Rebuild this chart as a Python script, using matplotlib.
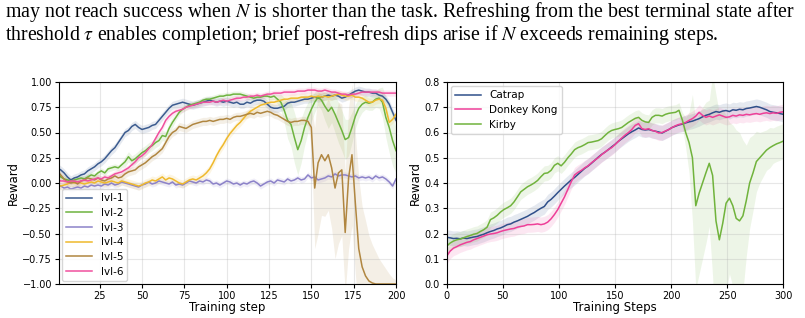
import numpy as np
import matplotlib
matplotlib.use("Agg")
import matplotlib.pyplot as plt

plt.rcParams['mathtext.fontset'] = 'stix'

# ---- caption text above the figure
caption_1 = r"may not reach success when $N$ is shorter than the task. Refreshing from the best terminal state after"
caption_2 = r"threshold $\tau$ enables completion; brief post-refresh dips arise if $N$ exceeds remaining steps."

# ---- left panel: reward per level (steps 0..200, every 2)
steps_lvl = np.arange(0, 201, 2)

lvl_1 = [0.15, 0.13, 0.10, 0.06, 0.03, 0.05, 0.06, 0.08, 0.09, 0.12,
         0.14, 0.16, 0.19, 0.21, 0.24, 0.28, 0.32, 0.35, 0.40, 0.45,
         0.50, 0.52, 0.56, 0.58, 0.55, 0.53, 0.54, 0.55, 0.57, 0.58,
         0.62, 0.66, 0.70, 0.74, 0.77, 0.78, 0.79, 0.80, 0.79, 0.78,
         0.77, 0.78, 0.79, 0.80, 0.81, 0.82, 0.81, 0.80, 0.81, 0.80,
         0.81, 0.80, 0.79, 0.80, 0.78, 0.78, 0.80, 0.79, 0.81, 0.82,
         0.82, 0.81, 0.78, 0.75, 0.74, 0.74, 0.75, 0.76, 0.79, 0.80,
         0.80, 0.81, 0.82, 0.83, 0.83, 0.84, 0.85, 0.84, 0.85, 0.86,
         0.87, 0.86, 0.87, 0.86, 0.84, 0.85, 0.87, 0.89, 0.91, 0.92,
         0.91, 0.90, 0.90, 0.89, 0.89, 0.87, 0.86, 0.83, 0.78, 0.70,
         0.62]
lvl_2 = [0.10, 0.06, 0.04, 0.03, 0.02, 0.03, 0.04, 0.05, 0.04, 0.06,
         0.08, 0.07, 0.10, 0.12, 0.10, 0.14, 0.15, 0.16, 0.15, 0.18,
         0.21, 0.26, 0.22, 0.24, 0.27, 0.30, 0.32, 0.35, 0.37, 0.40,
         0.42, 0.47, 0.46, 0.54, 0.60, 0.65, 0.70, 0.73, 0.75, 0.77,
         0.78, 0.79, 0.80, 0.82, 0.83, 0.83, 0.84, 0.85, 0.86, 0.86,
         0.87, 0.87, 0.88, 0.88, 0.88, 0.87, 0.86, 0.85, 0.84, 0.85,
         0.85, 0.86, 0.86, 0.85, 0.86, 0.83, 0.80, 0.72, 0.62, 0.58,
         0.45, 0.33, 0.42, 0.55, 0.65, 0.73, 0.80, 0.85, 0.82, 0.76,
         0.71, 0.75, 0.68, 0.60, 0.52, 0.43, 0.45, 0.55, 0.66, 0.74,
         0.78, 0.80, 0.79, 0.80, 0.83, 0.84, 0.80, 0.65, 0.55, 0.42,
         0.32]
lvl_3 = [-0.02, -0.03, -0.05, -0.04, -0.06, -0.05, -0.04, -0.05, -0.03, -0.04,
         -0.02, -0.03, -0.02, -0.03, -0.01, -0.02, 0.00, -0.02, -0.01, 0.01,
         0.00, -0.01, -0.02, -0.03, -0.04, -0.02, -0.01, 0.01, -0.01, 0.00,
         0.02, 0.01, 0.00, -0.01, 0.01, -0.02, -0.01, -0.02, 0.00, 0.02,
         0.01, 0.00, 0.02, 0.01, 0.03, 0.02, -0.01, 0.00, -0.02, 0.00,
         0.02, 0.01, -0.01, 0.00, -0.02, 0.00, -0.01, 0.01, 0.02, 0.00,
         -0.03, -0.01, 0.01, 0.02, 0.00, 0.03, 0.02, 0.01, 0.04, 0.02,
         0.03, 0.05, 0.03, 0.04, 0.08, 0.05, 0.06, 0.03, 0.04, 0.05,
         0.07, 0.06, 0.09, 0.07, 0.08, 0.08, 0.07, 0.06, 0.07, 0.05,
         0.06, 0.05, 0.06, 0.04, 0.07, 0.05, 0.06, 0.04, 0.01, -0.03,
         0.04]
lvl_4 = [-0.01, -0.03, -0.02, -0.01, 0.01, 0.00, 0.01, 0.00, -0.01, 0.00,
         0.01, 0.00, 0.02, 0.01, 0.00, 0.01, 0.02, 0.01, 0.00, 0.02,
         0.01, 0.00, -0.01, -0.02, -0.03, -0.02, 0.00, 0.01, 0.03, 0.02,
         0.04, 0.06, 0.03, 0.05, 0.04, 0.02, 0.00, -0.01, 0.01, 0.03,
         0.04, 0.03, 0.05, 0.07, 0.10, 0.14, 0.20, 0.27, 0.33, 0.38,
         0.44, 0.49, 0.53, 0.57, 0.60, 0.64, 0.68, 0.71, 0.73, 0.75,
         0.77, 0.78, 0.79, 0.80, 0.80, 0.81, 0.82, 0.83, 0.83, 0.84,
         0.84, 0.84, 0.85, 0.85, 0.85, 0.86, 0.85, 0.86, 0.85, 0.86,
         0.85, 0.86, 0.87, 0.88, 0.87, 0.86, 0.86, 0.87, 0.85, 0.85,
         0.84, 0.82, 0.80, 0.80, 0.82, 0.83, 0.82, 0.74, 0.60, 0.63,
         0.68]
lvl_5 = [0.12, 0.08, 0.04, 0.01, 0.00, 0.01, -0.01, 0.02, 0.03, 0.05,
         0.04, 0.03, 0.05, 0.03, 0.02, 0.04, 0.05, 0.07, 0.05, 0.06,
         0.09, 0.11, 0.12, 0.13, 0.16, 0.18, 0.20, 0.23, 0.26, 0.28,
         0.31, 0.34, 0.40, 0.46, 0.50, 0.52, 0.56, 0.55, 0.54, 0.56,
         0.58, 0.59, 0.60, 0.61, 0.61, 0.62, 0.61, 0.62, 0.63, 0.63,
         0.64, 0.63, 0.65, 0.66, 0.66, 0.67, 0.68, 0.69, 0.68, 0.70,
         0.69, 0.70, 0.71, 0.70, 0.68, 0.67, 0.65, 0.63, 0.61, 0.60,
         0.61, 0.61, 0.62, 0.62, 0.61, 0.55, -0.05, 0.20, 0.28, 0.22,
         0.28, 0.15, -0.05, 0.10, 0.13, -0.49, 0.05, 0.28, -0.20, -0.65,
         -0.83, -0.92, -0.97, -0.99, -1.00, -1.00, -1.00, -1.00, -1.00, -1.00,
         -1.00]
lvl_6 = [0.04, 0.02, 0.02, 0.01, 0.02, 0.02, 0.01, 0.02, 0.03, 0.02,
         0.03, 0.04, 0.05, 0.04, 0.06, 0.05, 0.07, 0.09, 0.10, 0.11,
         0.13, 0.15, 0.18, 0.21, 0.25, 0.27, 0.30, 0.34, 0.38, 0.44,
         0.50, 0.55, 0.62, 0.66, 0.69, 0.71, 0.72, 0.73, 0.75, 0.76,
         0.77, 0.78, 0.79, 0.80, 0.80, 0.80, 0.81, 0.80, 0.81, 0.82,
         0.81, 0.82, 0.83, 0.84, 0.84, 0.85, 0.85, 0.86, 0.86, 0.87,
         0.86, 0.87, 0.88, 0.88, 0.89, 0.89, 0.89, 0.90, 0.90, 0.90,
         0.90, 0.91, 0.91, 0.91, 0.92, 0.92, 0.92, 0.91, 0.91, 0.92,
         0.91, 0.90, 0.90, 0.89, 0.88, 0.88, 0.87, 0.88, 0.88, 0.89,
         0.90, 0.90, 0.90, 0.90, 0.90, 0.90, 0.89, 0.89, 0.89, 0.89,
         0.89]

# half-width of the shaded spread
lvl_2_spread = [0.03] * 20 + [0.05] * 15 + [0.03] * 30 + [
    0.05, 0.08, 0.12, 0.18, 0.22, 0.25, 0.25, 0.22, 0.18, 0.15,
    0.12, 0.10, 0.08, 0.10, 0.14, 0.17, 0.15, 0.18, 0.20, 0.20,
    0.20, 0.18, 0.15, 0.12, 0.10, 0.08, 0.07, 0.07, 0.08, 0.08,
    0.10, 0.15, 0.20, 0.25, 0.25, 0.22]
lvl_5_spread = [0.04] * 75 + [
    0.20, 0.60, 0.70, 0.60, 0.55, 0.55, 0.60, 0.70, 0.70, 0.65,
    0.60, 0.70, 0.70, 0.70, 0.70, 0.60, 0.55, 0.45, 0.38, 0.32,
    0.25, 0.20, 0.15, 0.10, 0.06, 0.04]

# ---- right panel: reward per game (steps 0..300, every 3)
steps_game = np.arange(0, 301, 3)

catrap = [0.185, 0.183, 0.180, 0.181, 0.179, 0.182, 0.180, 0.183, 0.186, 0.188,
          0.193, 0.197, 0.203, 0.208, 0.212, 0.218, 0.222, 0.228, 0.235, 0.238,
          0.245, 0.250, 0.256, 0.262, 0.268, 0.276, 0.283, 0.292, 0.300, 0.307,
          0.325, 0.335, 0.348, 0.362, 0.375, 0.388, 0.400, 0.412, 0.422, 0.434,
          0.446, 0.458, 0.467, 0.478, 0.490, 0.502, 0.513, 0.522, 0.532, 0.543,
          0.553, 0.565, 0.575, 0.585, 0.595, 0.603, 0.610, 0.618, 0.612, 0.610,
          0.612, 0.608, 0.605, 0.602, 0.598, 0.605, 0.612, 0.620, 0.625, 0.630,
          0.633, 0.638, 0.642, 0.645, 0.650, 0.655, 0.662, 0.668, 0.672, 0.678,
          0.683, 0.680, 0.685, 0.687, 0.683, 0.690, 0.688, 0.692, 0.690, 0.695,
          0.697, 0.700, 0.703, 0.700, 0.695, 0.690, 0.683, 0.680, 0.678, 0.675,
          0.672]
donkey_kong = [0.110, 0.130, 0.142, 0.148, 0.155, 0.160, 0.165, 0.168, 0.175, 0.180,
               0.185, 0.190, 0.195, 0.198, 0.200, 0.203, 0.208, 0.212, 0.215, 0.218,
               0.220, 0.225, 0.228, 0.230, 0.235, 0.235, 0.236, 0.238, 0.235, 0.238,
               0.245, 0.258, 0.275, 0.295, 0.320, 0.345, 0.375, 0.405, 0.432, 0.442,
               0.450, 0.460, 0.468, 0.480, 0.490, 0.500, 0.512, 0.522, 0.532, 0.540,
               0.552, 0.565, 0.578, 0.590, 0.600, 0.612, 0.628, 0.635, 0.615, 0.612,
               0.615, 0.608, 0.605, 0.598, 0.600, 0.606, 0.612, 0.620, 0.627, 0.632,
               0.635, 0.640, 0.648, 0.655, 0.665, 0.680, 0.668, 0.660, 0.665, 0.660,
               0.665, 0.670, 0.665, 0.660, 0.662, 0.668, 0.665, 0.670, 0.668, 0.672,
               0.670, 0.673, 0.675, 0.672, 0.676, 0.678, 0.675, 0.678, 0.676, 0.680,
               0.682]
kirby = [0.150, 0.162, 0.170, 0.175, 0.178, 0.183, 0.188, 0.192, 0.197, 0.200,
         0.208, 0.215, 0.225, 0.255, 0.262, 0.272, 0.285, 0.295, 0.302, 0.310,
         0.325, 0.345, 0.365, 0.375, 0.385, 0.392, 0.400, 0.410, 0.425, 0.438,
         0.440, 0.450, 0.470, 0.478, 0.468, 0.482, 0.500, 0.515, 0.532, 0.540,
         0.545, 0.552, 0.560, 0.562, 0.565, 0.568, 0.575, 0.588, 0.600, 0.608,
         0.612, 0.615, 0.620, 0.630, 0.640, 0.648, 0.656, 0.660, 0.648, 0.642,
         0.640, 0.660, 0.668, 0.668, 0.665, 0.672, 0.676, 0.678, 0.680, 0.688,
         0.650, 0.600, 0.560, 0.500, 0.310, 0.360, 0.400, 0.440, 0.478, 0.430,
         0.250, 0.175, 0.240, 0.320, 0.340, 0.310, 0.260, 0.250, 0.270, 0.330,
         0.400, 0.440, 0.485, 0.500, 0.515, 0.530, 0.540, 0.548, 0.555, 0.560,
         0.566]
kirby_spread = [0.03] * 71 + [
    0.06, 0.12, 0.25, 0.33, 0.32, 0.30, 0.28, 0.25, 0.40, 0.50,
    0.50, 0.45, 0.35, 0.30, 0.32, 0.35, 0.35, 0.30, 0.22, 0.18,
    0.15, 0.12, 0.10, 0.09, 0.08, 0.08, 0.07, 0.07, 0.07, 0.07]

lvl_labels = ["lvl-1", "lvl-2", "lvl-3", "lvl-4", "lvl-5", "lvl-6"]
lvl_colors = ["#3b5b8f", "#6db33f", "#8c82c9", "#efb92c", "#b08640", "#f0509e"]
game_labels = ["Catrap", "Donkey Kong", "Kirby"]
game_colors = ["#2f4f8a", "#ee3f98", "#70b33c"]

fig = plt.figure(figsize=(8.05, 3.18), dpi=100)

fig.text(0.006, 1 - 17 / 318, caption_1, family="Liberation Serif", fontsize=14.3, va="baseline")
fig.text(0.006, 1 - 40 / 318, caption_2, family="Liberation Serif", fontsize=14.3, va="baseline")

ax1 = fig.add_axes([59 / 805, 34 / 318, 337 / 805, 202 / 318])
ax2 = fig.add_axes([446.7 / 805, 34 / 318, 336.6 / 805, 202 / 318])

lvl_series = [lvl_1, lvl_2, lvl_3, lvl_4, lvl_5, lvl_6]
lvl_spreads = [0.04, lvl_2_spread, 0.03, 0.04, lvl_5_spread, 0.03]
for y, sp, lab, col in zip(lvl_series, lvl_spreads, lvl_labels, lvl_colors):
    y = np.array(y)
    sp = np.array(sp)
    ax1.fill_between(steps_lvl, y - sp, y + sp, color=col, alpha=0.13, lw=0)
    ax1.plot(steps_lvl, y, color=col, lw=1.1, label=lab)

ax1.set_xlim(1, 200)
ax1.set_ylim(-1, 1)
ax1.set_xticks([25, 50, 75, 100, 125, 150, 175, 200])
ax1.set_yticks([-1, -0.75, -0.5, -0.25, 0, 0.25, 0.5, 0.75, 1.0])
ax1.set_xlabel("Training step", fontsize=8.5, labelpad=0)
ax1.set_ylabel("Reward", fontsize=8.5, labelpad=2)
ax1.grid(True, alpha=0.3)
ax1.tick_params(labelsize=7, length=3, pad=2)
ax1.legend(loc="lower left", fontsize=7.5, handlelength=2.5, labelspacing=0.45,
           borderaxespad=0.3, framealpha=0.8)

game_series = [catrap, donkey_kong, kirby]
game_spreads = [0.03, 0.03, kirby_spread]
for y, sp, lab, col in zip(game_series, game_spreads, game_labels, game_colors):
    y = np.array(y)
    sp = np.array(sp)
    ax2.fill_between(steps_game, y - sp, y + sp, color=col, alpha=0.12, lw=0)
    ax2.plot(steps_game, y, color=col, lw=1.1, label=lab)

ax2.set_xlim(0, 300)
ax2.set_ylim(0, 0.8)
ax2.set_xlabel("Training Steps", fontsize=8.5, labelpad=0)
ax2.set_ylabel("Reward", fontsize=8.5, labelpad=2)
ax2.grid(True, alpha=0.3)
ax2.tick_params(labelsize=7, length=3, pad=2)
ax2.legend(loc="upper left", fontsize=7.5, handlelength=2.5, labelspacing=0.45,
           borderaxespad=0.4, framealpha=0.8)

fig.savefig("out.png", dpi=100)
